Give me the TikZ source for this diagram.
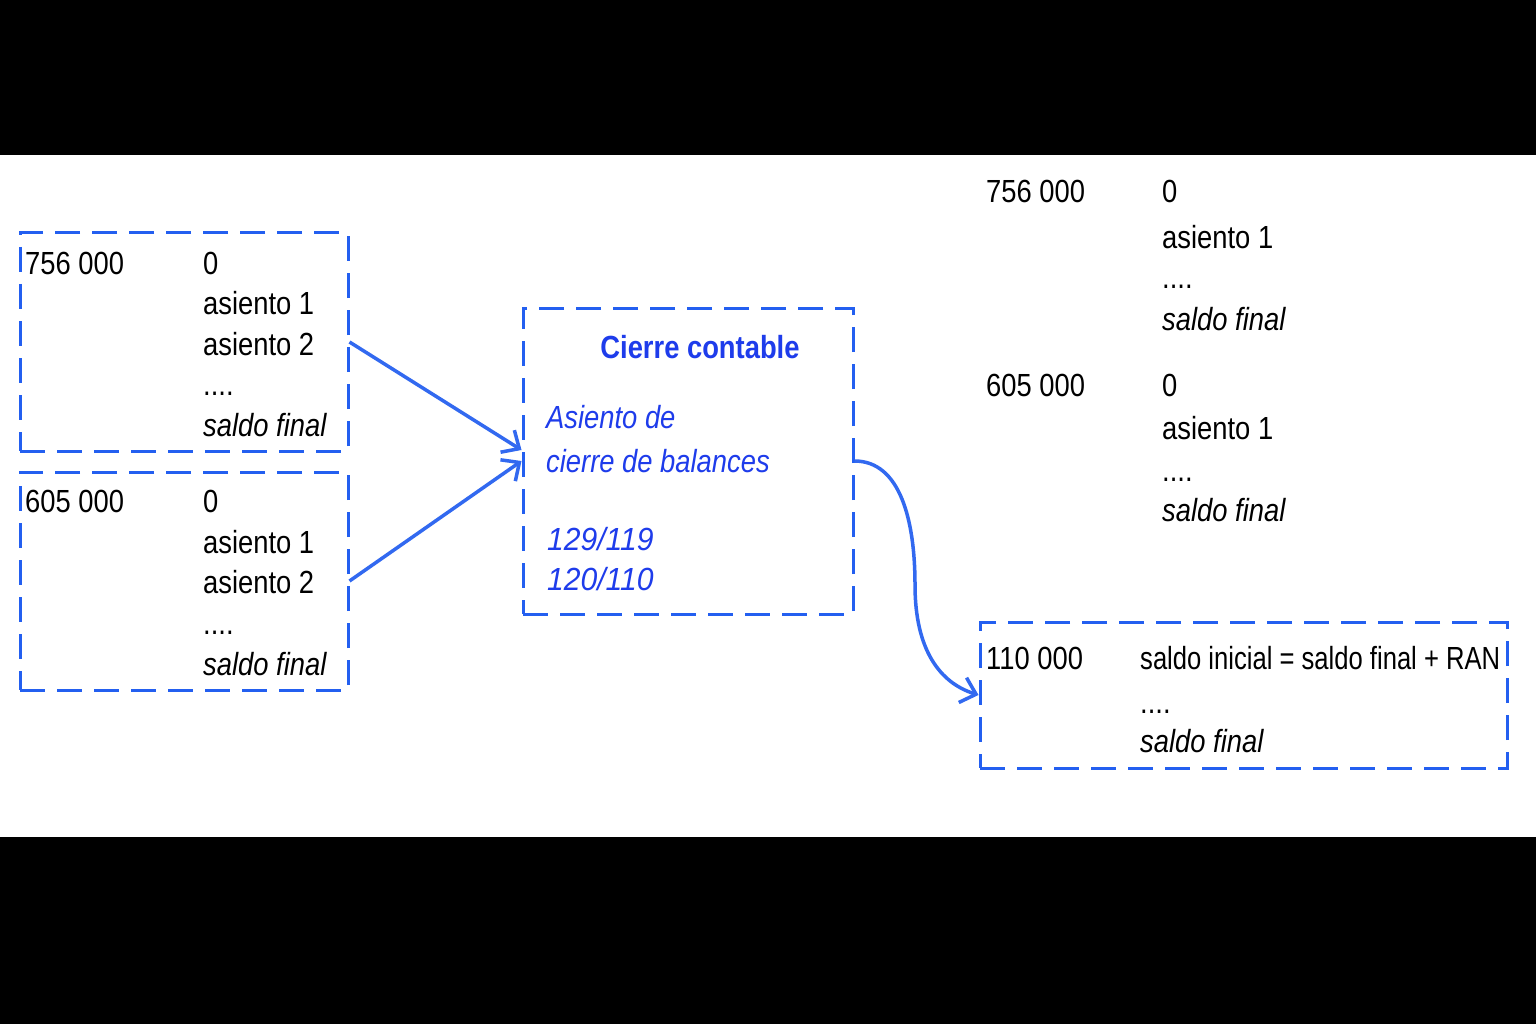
\documentclass[tikz,border=0pt]{standalone}
\usepackage{fontspec}
\setmainfont{Liberation Sans}[FakeStretch=0.855]
\newfontfamily\narrowfont{Liberation Sans}[FakeStretch=0.80]
\newfontfamily\widefont{Liberation Sans}[FakeStretch=0.94]
\usetikzlibrary{arrows.meta}
\definecolor{boxblue}{RGB}{35,95,240}
\definecolor{arrowblue}{RGB}{50,105,240}
\definecolor{textblue}{RGB}{30,60,235}
\begin{document}
\begin{tikzpicture}[x=1pt,y=-1pt,
  dbox/.style={draw=boxblue, line width=3pt, dash pattern=on 25pt off 12pt, inner sep=0pt},
  txt/.style={anchor=base west, inner sep=0pt, font=\fontsize{32}{38}\selectfont},
  btxt/.style={txt, text=textblue},
  conn/.style={draw=arrowblue, line width=3.5pt, -{Straight Barb[length=14pt,width=26pt,line width=3.5pt]}}
]
\fill[white] (0,0) rectangle (1536,1024);
\fill[black] (0,0) rectangle (1536,155);
\fill[black] (0,837) rectangle (1536,1024);
\useasboundingbox (0,0) rectangle (1536,1024);

% boxes
\node[dbox, minimum width=328pt, minimum height=218pt] (b1) at (184,342) {};
\node[dbox, minimum width=328pt, minimum height=218pt] (b2) at (184,581) {};
\node[dbox, minimum width=330pt, minimum height=306pt] (c) at (688,461) {};
\node[dbox, minimum width=527pt, minimum height=146pt] (b4) at (1243.5,695) {};

% box 1
\node[txt] (b1a) at (25,275) {756 000};
\node[txt] (b1b) at (203,275) {0};
\node[txt] (b1c) at (203,314) {asiento 1};
\node[txt] (b1d) at (203,355) {asiento 2};
\node[txt] (b1e) at (203,395) {....};
\node[txt] (b1f) at (203,436) {\itshape saldo final};

% box 2
\node[txt] (b2a) at (25,512) {605 000};
\node[txt] (b2b) at (203,512) {0};
\node[txt] (b2c) at (203,553) {asiento 1};
\node[txt] (b2d) at (203,593) {asiento 2};
\node[txt] (b2e) at (203,634) {....};
\node[txt] (b2f) at (203,675) {\itshape saldo final};

% centre box
\node[btxt, anchor=base, font=\fontsize{32}{38}\selectfont\bfseries] (ct) at (700,358) {Cierre contable};
\node[btxt] (ca) at (546,428) {\itshape Asiento de};
\node[btxt] (cb) at (546,472) {\itshape cierre de balances};
\node[btxt] (cc) at (547,550) {\widefont\itshape 129/119};
\node[btxt] (cd) at (547,590) {\widefont\itshape 120/110};

% right top (no box)
\node[txt] (r1a) at (986,203) {756 000};
\node[txt] (r1b) at (1162,203) {0};
\node[txt] (r1c) at (1162,249) {asiento 1};
\node[txt] (r1d) at (1162,289) {....};
\node[txt] (r1e) at (1162,330) {\itshape saldo final};
\node[txt] (r2a) at (986,396) {605 000};
\node[txt] (r2b) at (1162,396) {0};
\node[txt] (r2c) at (1162,439) {asiento 1};
\node[txt] (r2d) at (1162,481) {....};
\node[txt] (r2e) at (1162,521) {\itshape saldo final};

% bottom right box
\node[txt] (b4a) at (986,669) {110 000};
\node[txt] (b4b) at (1140,669) {\narrowfont saldo inicial = saldo final + RAN};
\node[txt] (b4c) at (1140,713) {....};
\node[txt] (b4d) at (1140,752) {\itshape saldo final};

% connectors
\draw[conn] (b1.east) -- ([yshift=11pt]c.west);
\draw[conn] (b2.east) -- (c.west);
\coordinate (mid) at (915,585);
\draw[conn] (c.east) .. controls (900,461) and (915,520) .. (mid)
  .. controls (915,650) and (940,683) .. (b4.west);
\end{tikzpicture}
\end{document}
